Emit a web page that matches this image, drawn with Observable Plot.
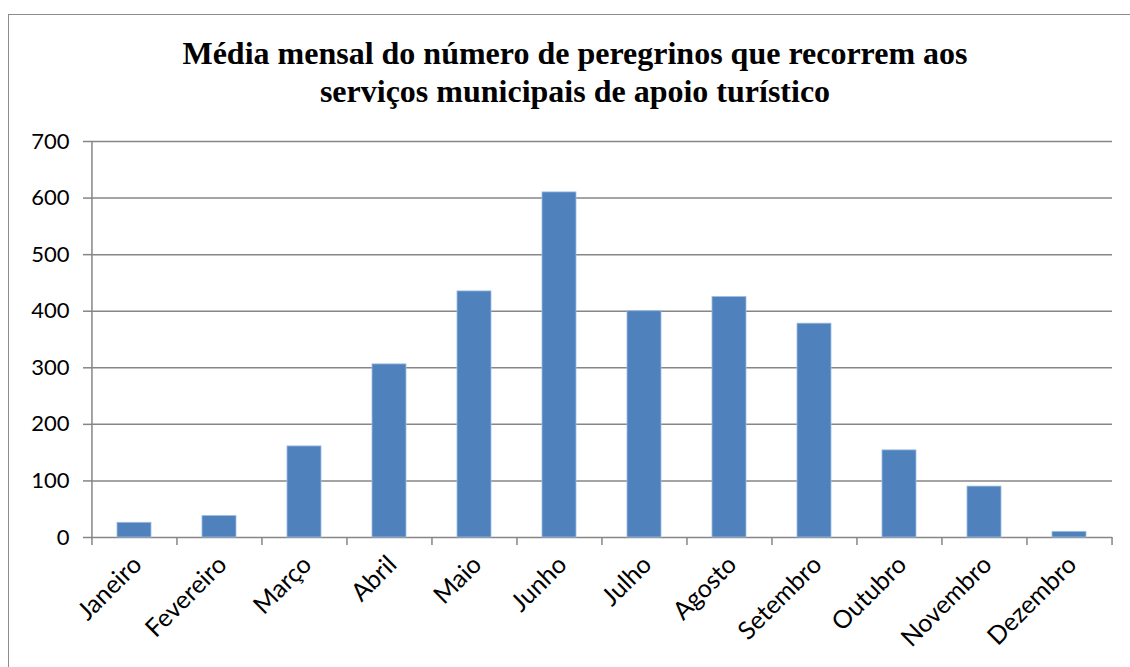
<!DOCTYPE html>
<html>
<head>
<meta charset="utf-8">
<script src="https://cdn.jsdelivr.net/npm/d3@7"></script>
<script src="https://cdn.jsdelivr.net/npm/@observablehq/plot@0.6"></script>
<style>
  html, body { margin: 0; padding: 0; background: #fff; }
  #wrap { position: relative; width: 1130px; height: 667px; overflow: hidden; background: #fff; }
  #frame { position: absolute; left: 8px; top: 14px; width: 1200px; height: 800px; border: 1px solid #8c8c8c; pointer-events: none; }
  #title { height: 125px; box-sizing: border-box; padding-top: 34px; width: 1150px; text-align: center;
           font: bold 32px "Liberation Serif", "Times New Roman", serif; line-height: 38px; color: #000; }
</style>
</head>
<body>
<div id="wrap">
  <div id="title">Média mensal do número de peregrinos que recorrem aos<br>serviços municipais de apoio turístico</div>
  <div id="chart"></div>
  <div id="frame"></div>
</div>
<script>
const months = ["Janeiro", "Fevereiro", "Março", "Abril", "Maio", "Junho", "Julho", "Agosto", "Setembro", "Outubro", "Novembro", "Dezembro"];
const values = [26, 38, 161, 306, 435, 610, 400, 425, 378, 154, 90, 10];
const yTicks = [0, 100, 200, 300, 400, 500, 600, 700];

const data = months.map((m, i) => ({month: m, value: values[i]}));

const W = 1130, H = 542, mL = 91, mR = 18, mT = 16, mB = 130;
const step = (W - mL - mR) / months.length;
const gray = "#868686";

const chart = Plot.plot({
  width: W, height: H,
  marginTop: mT, marginBottom: mB, marginLeft: mL, marginRight: mR,
  style: {fontFamily: "Lato, 'Open Sans', sans-serif", fontSize: "22px", color: "#000", background: "transparent"},
  x: {domain: months, paddingInner: 0.6, paddingOuter: 0.3, label: null},
  y: {domain: [0, 700], label: null},
  marks: [
    Plot.gridY(yTicks, {stroke: gray, strokeOpacity: 1, strokeWidth: 1.5}),
    Plot.barY(data, {x: "month", y: "value", fill: "#4F81BD", stroke: "#9fbde3", strokeWidth: 0.8}),
    Plot.ruleX([months[0]], {dx: -step / 2, y1: 0, y2: 700, stroke: gray, strokeWidth: 1.5}),
    Plot.ruleX(months, {dx: -step / 2, y1: 0, y2: 0, insetTop: 8, stroke: gray, strokeWidth: 1.5}),
    Plot.ruleX([months[months.length - 1]], {dx: step / 2, y1: 0, y2: 0, insetTop: 8, stroke: gray, strokeWidth: 1.5}),
    Plot.axisY(yTicks, {tickSize: 8, tickPadding: 14, stroke: gray, strokeWidth: 1.5, fontSize: 22, tickFormat: d => String(d), label: null}),
    Plot.axisX({tickSize: 0, tickRotate: -45, tickPadding: 23, dx: 3, fontSize: 25, label: null})
  ]
});
document.getElementById("chart").appendChild(chart);
</script>
</body>
</html>
